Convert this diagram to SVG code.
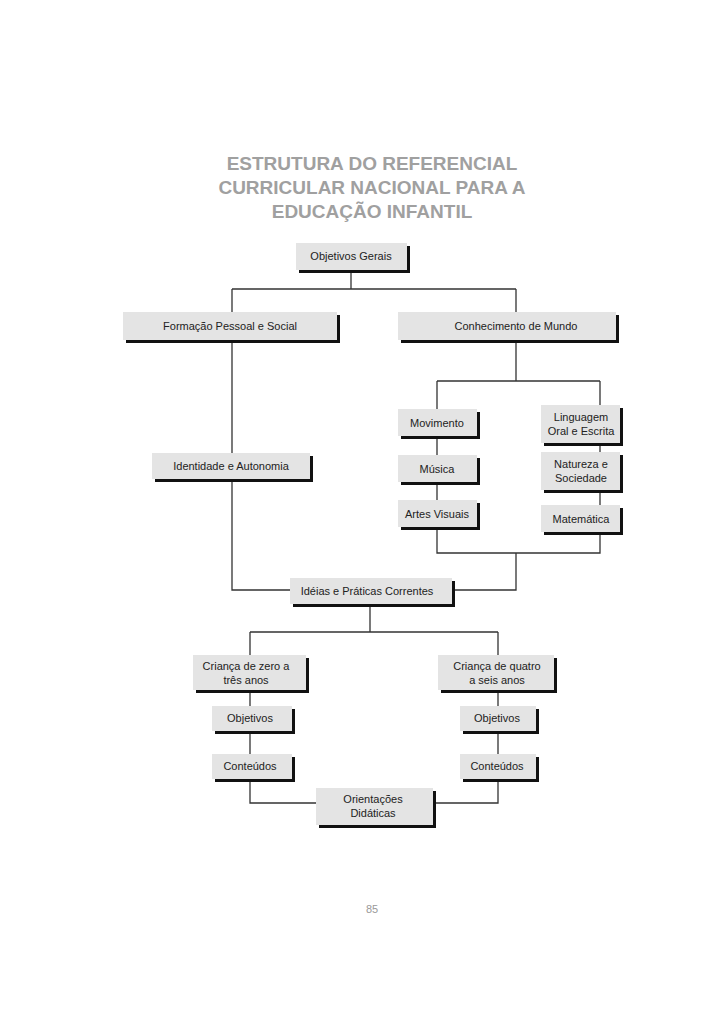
<svg xmlns="http://www.w3.org/2000/svg" width="728" height="1031" viewBox="0 0 728 1031">
<style>
.sh{fill:#111}
.bx{fill:#e4e4e4}
.t{font-family:"Liberation Sans",Arial,sans-serif;font-size:11px;fill:#222;text-anchor:middle}
.ti{font-family:"Liberation Sans",Arial,sans-serif;font-size:19px;font-weight:bold;fill:#a0a0a0;text-anchor:middle}
#c path{fill:none;stroke:#333;stroke-width:1.3}
</style>
<rect width="728" height="1031" fill="#fff"/>
<text class="ti" x="372" y="170">ESTRUTURA DO REFERENCIAL</text>
<text class="ti" x="372" y="194">CURRICULAR NACIONAL PARA A</text>
<text class="ti" x="372" y="218">EDUCAÇÃO  INFANTIL</text>
<g id="c">
<path d="M351 270V289M232 289H516M232 289V312M516 289V312"/>
<path d="M232 340V590H290"/>
<path d="M516 340V381M437 381H600M437 381V409M600 381V405"/>
<path d="M437 436V500M600 443V505"/>
<path d="M437 527V553H600V532M516 553V590H452"/>
<path d="M370 604V632M250 632H498M250 632V655M498 632V655"/>
<path d="M250 690V754M498 690V754"/>
<path d="M250 779V803H316M498 779V803H433"/>
</g>
<g id="n1"><rect class="sh" x="299" y="246" width="111" height="27"/><rect class="bx" x="296" y="243" width="111" height="27"/><text class="t" x="351" y="260">Objetivos Gerais</text></g>
<g id="n2"><rect class="sh" x="126" y="315" width="214" height="28"/><rect class="bx" x="123" y="312" width="214" height="28"/><text class="t" x="230" y="330">Formação Pessoal e Social</text></g>
<g id="n3"><rect class="sh" x="401" y="315" width="218" height="28"/><rect class="bx" x="398" y="312" width="218" height="28"/><text class="t" x="516" y="330">Conhecimento de Mundo</text></g>
<g id="n4"><rect class="sh" x="155" y="456" width="158" height="26"/><rect class="bx" x="152" y="453" width="158" height="26"/><text class="t" x="231" y="470">Identidade e Autonomia</text></g>
<g id="n5"><rect class="sh" x="401" y="412" width="79" height="27"/><rect class="bx" x="398" y="409" width="79" height="27"/><text class="t" x="437" y="427">Movimento</text></g>
<g id="n6"><rect class="sh" x="401" y="458" width="79" height="27"/><rect class="bx" x="398" y="455" width="79" height="27"/><text class="t" x="437" y="473">Música</text></g>
<g id="n7"><rect class="sh" x="401" y="503" width="79" height="27"/><rect class="bx" x="398" y="500" width="79" height="27"/><text class="t" x="437" y="518">Artes Visuais</text></g>
<g id="n8"><rect class="sh" x="544" y="408" width="79" height="38"/><rect class="bx" x="541" y="405" width="79" height="38"/><text class="t" x="581" y="421">Linguagem</text><text class="t" x="581" y="435">Oral e Escrita</text></g>
<g id="n9"><rect class="sh" x="544" y="455" width="79" height="38"/><rect class="bx" x="541" y="452" width="79" height="38"/><text class="t" x="581" y="468">Natureza e</text><text class="t" x="581" y="482">Sociedade</text></g>
<g id="n10"><rect class="sh" x="544" y="508" width="79" height="27"/><rect class="bx" x="541" y="505" width="79" height="27"/><text class="t" x="581" y="523">Matemática</text></g>
<g id="n11"><rect class="sh" x="293" y="581" width="162" height="26"/><rect class="bx" x="290" y="578" width="162" height="26"/><text class="t" x="367" y="595">Idéias e Práticas Correntes</text></g>
<g id="n12"><rect class="sh" x="196" y="658" width="113" height="35"/><rect class="bx" x="193" y="655" width="113" height="35"/><text class="t" x="246" y="670">Criança de zero a</text><text class="t" x="246" y="684">três anos</text></g>
<g id="n13"><rect class="sh" x="441" y="658" width="116" height="35"/><rect class="bx" x="438" y="655" width="116" height="35"/><text class="t" x="497" y="670">Criança de quatro</text><text class="t" x="497" y="684">a seis anos</text></g>
<g id="n14"><rect class="sh" x="215" y="709" width="80" height="25"/><rect class="bx" x="212" y="706" width="80" height="25"/><text class="t" x="250" y="722">Objetivos</text></g>
<g id="n15"><rect class="sh" x="463" y="709" width="76" height="25"/><rect class="bx" x="460" y="706" width="76" height="25"/><text class="t" x="497" y="722">Objetivos</text></g>
<g id="n16"><rect class="sh" x="215" y="757" width="80" height="25"/><rect class="bx" x="212" y="754" width="80" height="25"/><text class="t" x="250" y="770">Conteúdos</text></g>
<g id="n17"><rect class="sh" x="463" y="757" width="76" height="25"/><rect class="bx" x="460" y="754" width="76" height="25"/><text class="t" x="497" y="770">Conteúdos</text></g>
<g id="n18"><rect class="sh" x="319" y="791" width="117" height="37"/><rect class="bx" x="316" y="788" width="117" height="37"/><text class="t" x="373" y="803">Orientações</text><text class="t" x="373" y="817">Didáticas</text></g>
<text x="372" y="913" font-family="Liberation Sans,Arial,sans-serif" font-size="11" fill="#999" text-anchor="middle">85</text>
</svg>
